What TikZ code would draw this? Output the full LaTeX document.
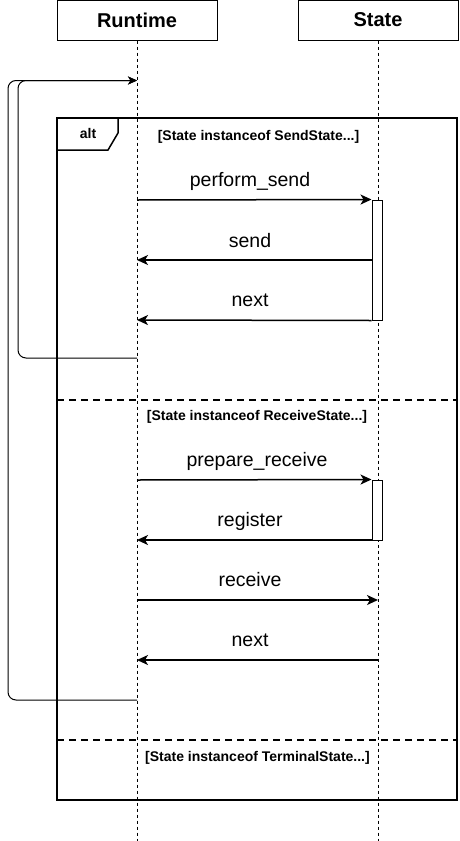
\documentclass[tikz,border=0pt]{standalone}
\usepackage{fontspec}
\setmainfont{Liberation Sans}
\usetikzlibrary{arrows.meta}
\begin{document}
\begin{tikzpicture}[x=1pt,y=-1pt,
  head/.style={draw, line width=1pt, minimum width=160pt, minimum height=40pt, inner sep=0pt, font=\fontsize{20}{24}\selectfont\bfseries},
  life/.style={line width=0.8pt, dash pattern=on 3pt off 3pt},
  act/.style={draw, line width=1pt, fill=white, minimum width=10pt, inner sep=0pt},
  msg/.style={line width=1.5pt, -{Stealth[length=11pt,width=10pt,inset=3pt]}},
  mlabel/.style={font=\fontsize{19.5}{23}\selectfont, inner sep=0pt},
  cond/.style={font=\fontsize{14}{16}\selectfont\bfseries, inner sep=0pt},
  loopline/.style={line width=1pt, rounded corners=8pt, -{Stealth[length=9pt,width=8pt,inset=2.5pt]}},
  sep/.style={line width=1.5pt, dash pattern=on 7pt off 5pt}]
\useasboundingbox (0,0) rectangle (460,841);
% headers
\node[head] (rt) at (137,20) {Runtime};
\node[head] (st) at (378,20) {State};
\coordinate (rtend) at (137,841);
\coordinate (stend) at (378,841);
\draw[life] (rt.south) -- (rtend);
\draw[life] (st.south) -- (stend);
% alt frame
\draw[line width=2pt] (57,118) rectangle (457,800);
\draw[line width=1.5pt] (57,150) -- (108,150) -- (118,133) -- (118,118);
\node[font=\fontsize{14}{16}\selectfont\bfseries, inner sep=0pt] (alt) at (88,133) {alt};
\node[cond] (c1) at (258.5,137) {[State instanceof SendState...]};
\draw[sep] (57,400) -- (457,400);
\node[cond] (c2) at (257,417) {[State instanceof ReceiveState...]};
\draw[sep] (57,740) -- (457,740);
\node[cond] (c3) at (257.5,758) {[State instanceof TerminalState...]};
% activations
\node[act, minimum height=120pt] (a1) at (377,260) {};
\node[act, minimum height=60pt] (a2) at (377,510) {};
% lifeline coordinates
\coordinate (r200) at (137,200);
\coordinate (r260) at (137,260);
\coordinate (r320) at (137,320);
\coordinate (r480) at (137,480);
\coordinate (r540) at (137,540);
\coordinate (r600) at (137,600);
\coordinate (r660) at (137,660);
\coordinate (s600) at (378,600);
\coordinate (s660) at (378,660);
\coordinate (a1m) at (372,260);
\coordinate (a2b) at (372,540);
% messages
\draw[msg] (r200) -- (a1.north west);
\node[mlabel] (l1) at (250,181) {perform\_send};
\draw[msg] (a1m) -- (r260);
\node[mlabel] (l2) at (250,241) {send};
\draw[msg] (a1.south west) -- (r320);
\node[mlabel] (l3) at (250,300) {next};
\draw[msg] (r480) -- (a2.north west);
\node[mlabel] (l4) at (257,461) {prepare\_receive};
\draw[msg] (a2b) -- (r540);
\node[mlabel] (l5) at (250,521) {register};
\draw[msg] (r600) -- (s600);
\node[mlabel] (l6) at (250,580) {receive};
\draw[msg] (s660) -- (r660);
\node[mlabel] (l7) at (250,640) {next};
% loops
\coordinate (lp1) at (137,358);
\coordinate (lp2) at (137,700);
\coordinate (lptop) at (137,80.5);
\draw[loopline] (lp1) -- (18,358) -- (18,80.5) -- (lptop);
\draw[loopline] (lp2) -- (8,700) -- (8,80.5) -- (lptop);
\end{tikzpicture}
\end{document}
